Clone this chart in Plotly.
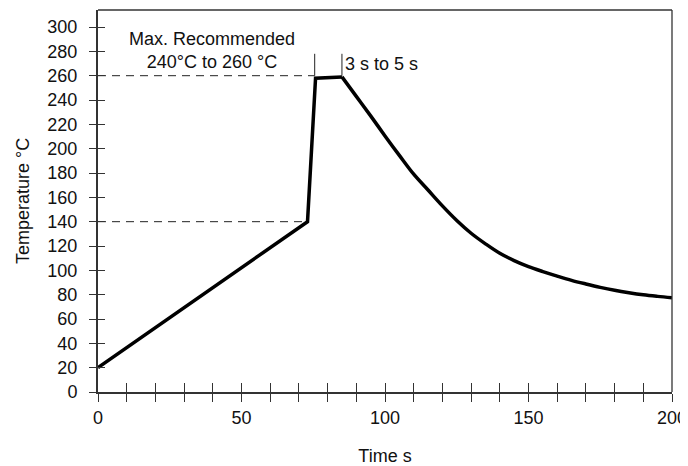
import plotly.graph_objects as go

# ---- data ----
time_s = [0, 73, 75.8, 85, 90, 95, 100, 105, 110, 115, 120, 125, 130, 135, 140,
          145, 150, 155, 160, 165, 170, 175, 180, 185, 190, 195, 200]
temp_c = [20, 140, 258, 259, 243, 227, 210.5, 194.5, 179, 166, 153, 141, 130.5,
          121.8, 114, 108, 103, 99, 95.3, 91.8, 88.8, 86, 83.6, 81.6, 79.9, 78.6, 77.5]
peak_index = 3  # end of the hold at peak temperature

preheat_end = [0, 73]      # dashed guide at 140 °C
preheat_temp = 140
peak_guide = [0, 75.5]     # dashed guide at 260 °C
peak_temp = 260
window_start = 75.5
window_end = 85
window_top = 278

x_ticks = list(range(0, 201, 10))
x_labels = [str(v) if v % 50 == 0 else "" for v in x_ticks]
y_ticks = list(range(0, 301, 20))
y_labels = [str(v) for v in y_ticks]

FONT = "Liberation Sans, Arial, sans-serif"
AX = "#333333"
X_RANGE = [0, 200]
Y_RANGE = [0, 314]

fig = go.Figure()

# dashed guides
fig.add_trace(go.Scatter(x=peak_guide, y=[peak_temp, peak_temp], mode="lines",
                         line=dict(color="#222", width=1, dash="8px,6px"),
                         hoverinfo="skip", showlegend=False))
fig.add_trace(go.Scatter(x=preheat_end, y=[preheat_temp, preheat_temp], mode="lines",
                         line=dict(color="#222", width=1, dash="8px,6px"),
                         hoverinfo="skip", showlegend=False))
# window bracket
for xv in (window_start, window_end):
    fig.add_trace(go.Scatter(x=[xv, xv], y=[peak_temp, window_top], mode="lines",
                             line=dict(color="#222", width=1),
                             hoverinfo="skip", showlegend=False))

# profile: heating + hold (straight), cooling (smooth)
fig.add_trace(go.Scatter(x=time_s[:peak_index + 1], y=temp_c[:peak_index + 1], mode="lines",
                         line=dict(color="black", width=3.5), showlegend=False))
fig.add_trace(go.Scatter(x=time_s[peak_index:], y=temp_c[peak_index:], mode="lines",
                         line=dict(color="black", width=3.5, shape="spline", smoothing=1.0),
                         showlegend=False))

# invisible trace carrying the overlay axes (inner halves of crossing ticks)
fig.add_trace(go.Scatter(x=X_RANGE, y=Y_RANGE, xaxis="x2", yaxis="y2", mode="lines",
                         line=dict(width=0), opacity=0, hoverinfo="skip", showlegend=False))

# top and right frame
shapes = [
    dict(type="line", xref="paper", yref="paper", x0=0, x1=1, y0=1, y1=1,
         line=dict(color=AX, width=1.3)),
    dict(type="line", xref="paper", yref="paper", x0=1, x1=1, y0=0, y1=1,
         line=dict(color=AX, width=1.3)),
]

# the page body adds an 8px offset, so the figure is sized to fit the window
fig.update_layout(
    width=680, height=458,
    margin=dict(l=90, r=16, t=2, b=74),
    paper_bgcolor="white", plot_bgcolor="white",
    font=dict(family=FONT, size=18, color="#111"),
    shapes=shapes,
    annotations=[
        dict(x=39.6, y=280.5, xref="x", yref="y", text="Max. Recommended<br>240°C to 260 °C",
             showarrow=False, font=dict(size=18, family=FONT, color="#111"),
             xanchor="center", yanchor="middle"),
        dict(x=85.3, y=270, xref="x", yref="y", text="3 s to 5 s",
             showarrow=False, font=dict(size=18, family=FONT, color="#111"),
             xanchor="left", yanchor="middle"),
    ],
    xaxis=dict(range=X_RANGE, tickvals=x_ticks, ticktext=x_labels,
               ticks="outside", ticklen=8, tickcolor=AX, tickwidth=1,
               showline=True, linecolor=AX, linewidth=2, showgrid=False,
               zeroline=False, ticklabelstandoff=0, automargin=False,
               title=dict(text="Time s", font=dict(size=18, family=FONT), standoff=36)),
    yaxis=dict(range=Y_RANGE, tickvals=y_ticks, ticktext=y_labels,
               ticks="outside", ticklen=7, tickcolor=AX, tickwidth=1,
               showline=True, linecolor=AX, linewidth=2, showgrid=False,
               zeroline=False, ticklabelstandoff=8, automargin=False,
               title=dict(text="Temperature °C", font=dict(size=18, family=FONT), standoff=13)),
    xaxis2=dict(range=X_RANGE, overlaying="x", anchor="y2", side="bottom",
                tickvals=x_ticks, ticks="inside", ticklen=9, tickcolor=AX, tickwidth=1,
                showticklabels=False, showline=False, showgrid=False, zeroline=False,
                automargin=False),
    yaxis2=dict(range=Y_RANGE, overlaying="y", anchor="x2", side="left",
                tickvals=y_ticks, ticks="inside", ticklen=7, tickcolor=AX, tickwidth=1,
                showticklabels=False, showline=False, showgrid=False, zeroline=False,
                automargin=False),
)

fig.write_html("out.html")
